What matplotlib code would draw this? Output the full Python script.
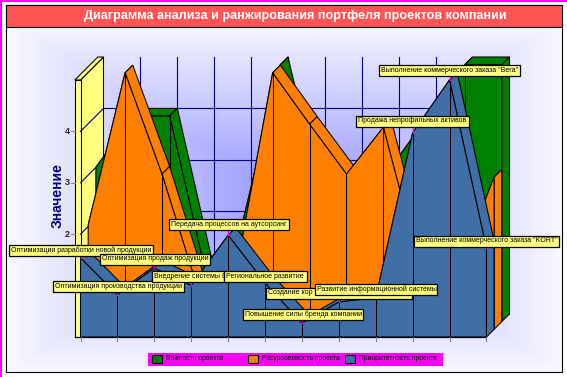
#!/usr/bin/env python3
"""Portfolio ranking chart drawn as a pseudo 3D ribbon area chart."""

import numpy as np
import matplotlib
matplotlib.use("Agg")
import matplotlib.pyplot as plt
from matplotlib.patches import Polygon, Rectangle

TITLE = "Диаграмма анализа и ранжирования портфеля проектов компании"
Y_TITLE = "Значение"
Y_TICKS = [2, 3, 4]

SERIES_NAMES = ["Важность проекта", "Ресурсоемкость проекта", "Приоритетность проекта"]
importance = [3.0, 4.0, 4.0, 0.87, 2.0, 5.0, 2.0, 2.0, 3.0, 4.0, 5.0, 5.0]
resources = [2.03, 4.99, 3.02, 0.72, 1.08, 4.99, 3.99, 3.02, 3.93, 1.2, 1.1, 2.96]
priority = [1.54, 0.82, 1.34, 1.0, 1.98, 1.05, 0.27, 0.68, 0.76, 3.97, 5.0, 1.73]

POINT_LABELS = [
    "Оптимизация разработки новой продукции",
    "Оптимизация производства продукции",
    "Оптимизация продаж продукции",
    "Внедрение системы б",
    "Передача процессов на аутсорсинг",
    "Региональное развитие",
    "Повышение силы бренда компании",
    "Создание кор",
    "Развитие информационной системы",
    "Продажа непрофильных активов",
    'Выполнение коммерческого заказа "Вега"',
    'Выполнение коммерческого заказа "KORT"',
]

# layout, in pixels of the picture
X0, STEP = 80.5, 36.9
FLOOR, UNIT = 337.0, 51.4
DEPTH = 7.67
BLACK_LW = 0.75
COLORS = ["#008000", "#ff8000", "#3f6fa6"]
BOX_LEFT = [8, 52, 99, 151, 168, 223, 242, 265, 314, 355, 378, 413]
BOX_TOP = [244, 280, 253, 270, 218, 270, 308, 287, 283, 115, 64, 235]
BOX_RIGHT = [152, 183, 209, 223, 288, 306, 362, 411, 436, 468, 519, 558]
BOX_ORDER = [4, 0, 2, 1, 7, 3, 5, 6, 8, 9, 10, 11]
LABEL_FONT = "Liberation Sans"


def px(i, v, d=0.0):
    """Picture position of category i, value v, at depth d (in series widths)."""
    return X0 + STEP * i + DEPTH * d, FLOOR - UNIT * v - DEPTH * d


def poly(ax, pts, fc, z, ec="black"):
    ax.add_patch(Polygon(pts, closed=True, fc=fc, ec=ec, lw=BLACK_LW, zorder=z))


def draw_ribbon(ax, values, d, color, z):
    n = len(values)
    for i in range(n - 1):
        quad = [px(i, values[i], d), px(i + 1, values[i + 1], d),
                px(i + 1, values[i + 1], d + 1), px(i, values[i], d + 1)]
        poly(ax, quad, color, z)
    # end face on the right
    poly(ax, [px(n - 1, values[-1], d), px(n - 1, values[-1], d + 1),
              px(n - 1, 0, d + 1), px(n - 1, 0, d)], color, z)
    front = [px(i, values[i], d) for i in range(n)] + [px(n - 1, 0, d), px(0, 0, d)]
    poly(ax, front, color, z + 0.1)
    for i in range(1, n - 1):
        a, b = px(i, values[i], d), px(i, 0, d)
        ax.plot([a[0], b[0]], [a[1], b[1]], color="black", lw=BLACK_LW, zorder=z + 0.2)


def main():
    fig = plt.figure(figsize=(5.67, 3.77), dpi=100)
    ax = fig.add_axes([0, 0, 1, 1])
    ax.axis("off")

    # panel background: rectangular gradient towards the centre
    yy, xx = np.mgrid[27:372, 5:563]
    t = np.maximum(np.abs(xx - 285) / 280.0, np.abs(yy - 195) / 178.0)[..., None]
    edge = np.array([250, 250, 255]) / 255.0
    centre = np.array([150, 150, 255]) / 255.0
    ax.imshow(centre + (edge - centre) * np.clip(t, 0, 1), extent=(5, 563, 372, 27),
              aspect="auto", zorder=0)
    ax.set_xlim(0, 567)
    ax.set_ylim(377, 0)

    # outer frame, title bar
    ax.plot([0.5, 0.5], [0, 377], color="#ff00ff", lw=1.4, zorder=1)
    ax.plot([0, 567], [0.5, 0.5], color="#ff00ff", lw=1.4, zorder=1)
    ax.add_patch(Rectangle((5.5, 4.5), 556.5, 367.5, fc="none", ec="black", lw=0.8, zorder=9))
    ax.add_patch(Rectangle((5.5, 4.5), 556.5, 22, fc="#ff5555", ec="black", lw=0.8, zorder=9))
    ax.text(295, 16, TITLE, color="white", fontsize=9.1, fontweight="bold", ha="center",
            va="center", family="Liberation Sans", zorder=10)

    n = len(priority)

    # grid on the back wall
    for i in range(1, n):
        a, b = px(i, 0, 3), px(i, 5, 3)
        ax.plot([a[0], b[0]], [a[1], b[1]], color="#000080", lw=0.8, zorder=2)
    for v in [1, 2, 3, 4]:
        a, b = px(0, v, 3), px(n - 1, v, 3)
        ax.plot([a[0], b[0]], [a[1], b[1]], color="#000080", lw=0.8, zorder=2)

    # yellow side wall
    yellow = "#ffff80"
    poly(ax, [px(0, 0, 0), px(0, 5, 0), px(0, 5, 3), px(0, 0, 3)], yellow, 3, ec="black")
    x0, top = px(0, 5, 0)
    wall_left = x0 - 5.7
    poly(ax, [(wall_left, top), (x0, top), px(0, 0, 0), (wall_left, FLOOR)], yellow, 3.1)
    back = px(0, 5, 3)
    poly(ax, [(wall_left, top), (x0, top), back, (back[0] - 5.7, back[1])], yellow, 3.1)
    for v in [1, 2, 3, 4]:
        a, b = px(0, v, 0), px(0, v, 3)
        ax.plot([a[0], b[0]], [a[1], b[1]], color="#000080", lw=0.8, zorder=3.2)

    draw_ribbon(ax, importance, 2, COLORS[0], 4)
    draw_ribbon(ax, resources, 1, COLORS[1], 5)
    draw_ribbon(ax, priority, 0, COLORS[2], 6)

    # floor line and ticks
    ax.plot([wall_left, px(n - 1, 0)[0]], [FLOOR, FLOOR], color="black", lw=0.9, zorder=7)
    for i in range(n):
        x, y = px(i, 0)
        ax.plot([x, x], [y, y + 3.5], color="#808080", lw=0.8, zorder=7)
    for v in Y_TICKS:
        y = px(0, v)[1]
        ax.plot([wall_left - 3.5, wall_left], [y, y], color="#808080", lw=0.8, zorder=7)
        ax.text(wall_left - 5, y, str(v), ha="right", va="center", fontsize=6.5,
                fontweight="bold", color="#202020", family="Liberation Sans", zorder=7)
    ax.text(58, 196, Y_TITLE, rotation=90, ha="center", va="center", fontsize=10,
            fontweight="bold", color="#000080", family="Liberation Sans", zorder=7)

    # point labels with short leaders
    for i in range(n):
        x, y = px(i, priority[i])
        bt = BOX_TOP[i]
        end = bt if bt > y else bt + 11.5
        ax.plot([x, x], [y, end], color="#ff00ff", lw=1.0, zorder=8)
    for k, i in enumerate(BOX_ORDER):
        left, right, bt = BOX_LEFT[i], BOX_RIGHT[i], BOX_TOP[i]
        ax.add_patch(Rectangle((left + 0.5, bt + 0.5), right - left, 11, fc="#ffff80", ec="black",
                               lw=0.9, zorder=8.1 + k * 0.01))
        ax.text(left + 3, bt + 6, POINT_LABELS[i], fontsize=5.0, va="center", ha="left",
                family=LABEL_FONT, color="black", zorder=8.1 + k * 0.01 + 0.001)

    # legend
    ax.add_patch(Rectangle((148, 353), 295, 13, fc="#ff00ff", ec="none", zorder=8))
    for name, color, sx in zip(SERIES_NAMES, COLORS, [151.5, 248, 345]):
        ax.add_patch(Rectangle((sx, 355), 10, 8, fc=color, ec="black", lw=0.8, zorder=8.1))
        ax.text(sx + 14, 359, name, fontsize=4.9, va="center", ha="left",
                family=LABEL_FONT, color="black", zorder=8.1)

    fig.savefig("out.png", dpi=100)


if __name__ == "__main__":
    main()
